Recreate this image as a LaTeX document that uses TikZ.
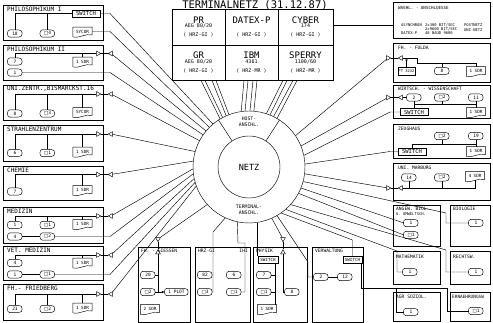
\documentclass[tikz,border=0pt]{standalone}
\usepackage{fontspec}
\usepackage{tikz}
\usetikzlibrary{positioning,calc,shapes.geometric,arrows.meta}
\newfontfamily\plotfont{DejaVu Sans Mono}
\newfontfamily\sqfont{DejaVu Sans}
\newcommand{\fsz}[1]{\fontsize{#1}{#1}\selectfont}
\newcommand{\sq}{{\sqfont\symbol{"25A1}}}
\newcommand{\hostlbl}[3]{{\fsz{9}#1}\\[-0.5pt]{\vphantom{0}#2}\\[4pt]{#3}}
% terminal (display symbol)
\newcommand{\term}[4][]{%
  \node[termnode,#1] (#2) at (#3) {#4};
  \draw[wire] ([xshift=2pt]#2.north west) -- ([xshift=-4pt]#2.north east)
    .. controls ([xshift=-1pt]#2.north east) and ([yshift=2pt]#2.east) .. (#2.east)
    .. controls ([yshift=-2pt]#2.east) and ([xshift=-1pt]#2.south east) .. ([xshift=-4pt]#2.south east)
    -- ([xshift=2pt]#2.south west)
    .. controls ([xshift=-1.2pt]#2.south west) and ([xshift=-1.2pt]#2.north west) .. cycle;}
% printer (document symbol)
\newcommand{\sdr}[3]{%
  \node[docnode] (#1) at (#2) {#3};
  \draw[wire] ([yshift=-1pt]#1.south west) -- (#1.north west) -- (#1.north east)
    -- ([yshift=1pt]#1.south east)
    .. controls ([xshift=3pt,yshift=3pt]#1.south) and ([xshift=-4pt,yshift=-3pt]#1.south) .. ([yshift=-1pt]#1.south west);}

\begin{document}
\begin{tikzpicture}[x=1pt,y=-1pt,
  wire/.style={line width=0.45pt},
  unitbox/.style={wire},
  boxtitle/.style={anchor=west,inner sep=0pt,font=\plotfont\fsz{6}},
  rtitle/.style={anchor=west,inner sep=0pt,font=\plotfont\fsz{4.6}},
  termnode/.style={inner sep=0pt,minimum width=14pt,minimum height=7pt,font=\plotfont\fsz{4.5}},
  docnode/.style={inner sep=0pt,minimum width=19pt,minimum height=8.5pt,font=\plotfont\fsz{4.3}},
  swbox/.style={draw,wire,inner sep=0pt,minimum width=28pt,minimum height=7pt,font=\plotfont\fsz{5.5}},
  plugr/.style={regular polygon,regular polygon sides=3,shape border rotate=-90,draw,wire,inner sep=0pt,minimum size=5.5pt},
  plugl/.style={plugr,shape border rotate=90},
  plugd/.style={plugr,shape border rotate=180},
  plugu/.style={plugr,shape border rotate=0},
  hostcell/.style={draw,wire,minimum width=53pt,minimum height=35.5pt,inner sep=0pt,align=center,font=\plotfont\fsz{5}},
  tinytext/.style={anchor=west,inner sep=0pt,font=\plotfont\fsz{3.8}}
]
\useasboundingbox (0,0) rectangle (493,323);

\node[font=\plotfont\fsz{10.5},anchor=base,inner sep=0pt] (title) at (255,8.2) {TERMINALNETZ (31.12.87)};

% hosts
\node[hostcell] (pr) at (198.5,27) {\hostlbl{PR}{AEG 80/20}{( HRZ-GI )}};
\node[hostcell] (datex) at (251.5,27) {\hostlbl{DATEX-P}{}{( HRZ-GI )}};
\node[hostcell,minimum width=55pt] (cyber) at (305.5,27) {\hostlbl{CYBER}{174}{( HRZ-GI )}};
\node[hostcell] (gr) at (198.5,62.5) {\hostlbl{GR}{AEG 80/20}{( HRZ-GI )}};
\node[hostcell] (ibm) at (251.5,62.5) {\hostlbl{IBM}{4361}{( HRZ-MR )}};
\node[hostcell,minimum width=55pt] (sperry) at (305.5,62.5) {\hostlbl{SPERRY}{1100/60}{( HRZ-MR )}};

% netz
\node[circle,draw,wire,minimum size=112pt,inner sep=0pt] (ring) at (249,167) {};
\node[circle,draw,wire,minimum size=62pt,inner sep=0pt,font=\plotfont\fsz{8.5}] (netz) at (249,167) {NETZ};
\draw[wire] (netz.57) -- (ring.57);
\draw[wire] (netz.123) -- (ring.123);
\node[font=\plotfont\fsz{4.8},align=center,inner sep=0pt] (hostl) at (249,122) {HOST-\\[1pt]ANSCHL.};
\node[font=\plotfont\fsz{4.8},align=center,inner sep=0pt] (terml) at (249,210) {TERMINAL-\\[1pt]ANSCHL.};

\draw[wire] ([xshift=2.5pt]gr.south) -- (ring.121);
\draw[wire] ([xshift=6.5pt]gr.south) -- (ring.118);
\draw[wire] ([xshift=13.5pt]gr.south) -- (ring.114);
\draw[wire] ([xshift=17.5pt]gr.south) -- (ring.111);
\draw[wire] ([xshift=-7.5pt]ibm.south) -- (ring.98);
\draw[wire] ([xshift=-3.5pt]ibm.south) -- (ring.94);
\draw[wire] ([xshift=1.5pt]ibm.south) -- (ring.89);
\draw[wire] ([xshift=5.5pt]ibm.south) -- (ring.85);
\draw[wire] ([xshift=-22.5pt]sperry.south) -- (ring.72);
\draw[wire] ([xshift=-18.5pt]sperry.south) -- (ring.68);
\draw[wire] ([xshift=-12.5pt]sperry.south) -- (ring.64);
\draw[wire] ([xshift=-8.5pt]sperry.south) -- (ring.60);

% Philosophikum I
\draw[unitbox] (3,5) rectangle (103,40);
\node[boxtitle] (phil1) at (7,9.5) {PHILOSOPHIKUM I};
\node[swbox] (phil1sw) at (86,13.5) {SWITCH};
\term{phil1a}{15,33.5}{18}
\term{phil1b}{47.5,33.5}{\sq4}
\sdr{phil1c}{82.5,31.5}{SYCOR}
\draw[wire] (phil1sw.west) -| (phil1a.north);
\draw[wire] (phil1b.north) -- (phil1b.north |- phil1sw.west);
\draw[wire] (phil1sw.east) -- (110,13.5) -- (ring.130);
\draw[wire] (phil1c.east) -- (110,31.5) -- (ring.135);

% Philosophikum II
\draw[unitbox] (3,45) rectangle (103,80);
\node[boxtitle] (phil2) at (7,49) {PHILOSOPHIKUM II};
\node[plugr] (phil2p) at (98,53.5) {};
\node[plugl] (phil2q) at (111,53.5) {};
\term{phil2a}{15,61.5}{7}
\sdr{phil2b}{82.5,61.5}{1 SDR}
\term{phil2c}{15,72.5}{1}
\draw[wire] (phil2a.north) |- (phil2p);
\draw[wire] (phil2b.north) -- (phil2b.north |- phil2p);
\draw[wire] (phil2p) -- (phil2q);
\draw[wire] (phil2q) -- (ring.140);
\draw[wire] (phil2c.east) -- (110,72.5) -- (ring.145);

% Uni Zentrale
\draw[unitbox] (3,85) rectangle (103,120);
\node[boxtitle] (zentr) at (7,89) {UNI.ZENTR.,BISMARCKST.16};
\node[plugr] (zentrp) at (98,94) {};
\node[plugl] (zentrq) at (111,94) {};
\term{zentra}{15,113.5}{8}
\term{zentrb}{47.5,113.5}{\sq3}
\sdr{zentrc}{82.5,112}{SYCOR}
\draw[wire] (zentra.north) |- (zentrp);
\draw[wire] (zentrb.north) -- (zentrb.north |- zentrp);
\draw[wire] (zentrc.north) -- (zentrc.north |- zentrp);
\draw[wire] (zentrp) -- (zentrq);
\draw[wire] (zentrq) -- (ring.152);

% Strahlenzentrum
\draw[unitbox] (3,125) rectangle (103,161);
\node[boxtitle] (strahl) at (7,129.5) {STRAHLENZENTRUM};
\node[plugr] (strahlp) at (98,134) {};
\node[plugl] (strahlq) at (111,134) {};
\term{strahla}{15,153}{6}
\term{strahlb}{47.5,153}{\sq1}
\sdr{strahlc}{82.5,151.5}{1 SDR}
\draw[wire] (strahla.north) |- (strahlp);
\draw[wire] (strahlb.north) -- (strahlb.north |- strahlp);
\draw[wire] (strahlc.north) -- (strahlc.north |- strahlp);
\draw[wire] (strahlp) -- (strahlq);
\draw[wire] (strahlq) -- (ring.164);

% Chemie
\draw[unitbox] (3,166) rectangle (103,200);
\node[boxtitle] (chem) at (7,170) {CHEMIE};
\node[plugr] (chemp) at (98,174.5) {};
\node[plugl] (chemq) at (111,174.5) {};
\term{chema}{15,191.5}{7}
\sdr{chemb}{82.5,190}{1 SDR}
\draw[wire] (chema.north) |- (chemp);
\draw[wire] (chemb.north) -- (chemb.north |- chemp);
\draw[wire] (chemp) -- (chemq);
\draw[wire] (chemq) -- (ring.174);

% Medizin
\draw[unitbox] (3,207) rectangle (103,243);
\node[boxtitle] (med) at (7,211) {MEDIZIN};
\node[plugr] (medp) at (98,216) {};
\node[plugl] (medq) at (111,216) {};
\term{meda}{15,225}{1}
\term{medb}{47.5,225}{\sq1}
\sdr{medc}{82.5,224}{1 SDR}
\term{medd}{15,236.5}{4}
\term{mede}{47.5,236.5}{\sq2}
\draw[wire] (meda.north) |- (medp);
\draw[wire] (medb.north) -- (medb.north |- medp);
\draw[wire] (medc.north) -- (medc.north |- medp);
\draw[wire] (medp) -- (medq);
\draw[wire] (medq) -- (ring.182);
\draw[wire] (medd.east) -- (mede.west);
\draw[wire] (mede.east) -- (110,236.5) -- (ring.187);

% Vet. Medizin
\draw[unitbox] (3,246) rectangle (103,280);
\node[boxtitle] (vet) at (7,250) {VET. MEDIZIN};
\node[plugr] (vetp) at (98,255) {};
\node[plugl] (vetq) at (111,255) {};
\term{veta}{15,263}{4}
\sdr{vetb}{82.5,262.5}{1 SDR}
\term{vetc}{15,274.5}{1}
\term{vetd}{47.5,274.5}{\sq1}
\draw[wire] (veta.north) |- (vetp);
\draw[wire] (vetb.north) -- (vetb.north |- vetp);
\draw[wire] (vetp) -- (vetq);
\draw[wire] (vetq) -- (ring.192);
\draw[wire] (vetc.east) -- (vetd.west);
\draw[wire] (vetd.east) -- (110,274.5) -- (ring.196);

% FH Friedberg
\draw[unitbox] (3,284) rectangle (103,320);
\node[boxtitle] (fried) at (7,288.5) {FH.- FRIEDBERG};
\node[plugr] (friedp) at (98,294) {};
\node[plugl] (friedq) at (111,294) {};
\term{frieda}{15,309}{21}
\term{friedb}{47.5,309}{\sq2}
\sdr{friedc}{82.5,307.5}{1 SDR}
\draw[wire] (frieda.north) |- (friedp);
\draw[wire] (friedb.north) -- (friedb.north |- friedp);
\draw[wire] (friedc.north) -- (friedc.north |- friedp);
\draw[wire] (friedp) -- (friedq);
\draw[wire] (friedq) -- (ring.200);

% FH Giessen
\draw[unitbox] (138,247) rectangle (190,322);
\node[rtitle] (giess) at (141,251) {FH. - GIESSEN};
\node[plugd] (giessp) at (158,239) {};
\node[plugu] (giessq) at (158,252.5) {};
\term{giessa}{148,275}{20}
\term{giessb}{148,292}{\sq2}
\sdr{giessc}{150,309}{2 SDR}
\term[minimum width=23pt]{giessd}{176.5,292}{1 PLOT}
\coordinate (giessk) at (158,292);
\draw[wire] (giessp) -- (giessq);
\draw[wire] (giessp) -- (ring.222);
\draw[wire] (giessq) -- (giessk);
\draw[wire] (giessa.east) -- (giessa.east -| giessk);
\draw[wire,-{Latex[length=3pt,width=2.5pt]}] (giessb.east) -- (giessd.west);

% HRZ-GI / IHI
\draw[unitbox] (195,247) rectangle (250,322);
\node[rtitle] (hrz) at (198,251) {HRZ-GI};
\node[rtitle,anchor=east] (ihi) at (248,251) {IHI};
\term{hrza}{205,275}{82}
\term{hrzb}{234,275}{6}
\term{hrzc}{205,292}{\sq3}
\term{hrzd}{234,292}{\sq1}
\draw[wire] (ring.245) -- (213,232) |- (hrzc.east);
\draw[wire] (ring.258) -- (238,243) -- (245,243) |- (hrzd.east);

% Physik
\draw[unitbox] (253,247) rectangle (307,322);
\node[rtitle] (phys) at (256,251) {PHYSIK};
\node[swbox,minimum width=20pt,font=\plotfont\fsz{4.2}] (physw) at (268,259.5) {SWITCH};
\node[plugd] (physp) at (283,239) {};
\node[plugu] (physq) at (283,252.5) {};
\term{physa}{264,275}{7}
\term{physb}{264,292}{\sq1}
\sdr{physc}{267,309}{1 SDR}
\term{physd}{292,292}{8}
\coordinate (physk) at (275,304.8);
\draw[wire] (ring.278) -- (ring.278 |- physw.north);
\draw[wire] (physw.south -| physk) -- (physk);
\draw[wire] (physa.east) -- (physa.east -| physk);
\draw[wire] (physb.east) -- (physb.east -| physk);
\draw[wire] (physp) -- (physq);
\draw[wire] (physp) -- (ring.294);
\draw[wire] (physq) |- (physd.west);

% Verwaltung
\draw[unitbox] (312,247) rectangle (363,322);
\node[rtitle] (verw) at (315,251) {VERWALTUNG};
\node[swbox,minimum width=19pt,font=\plotfont\fsz{4.2}] (verwsw) at (352.5,259.5) {SWITCH};
\term{verwa}{321,277}{2}
\term{verwb}{345,277}{12}
\coordinate (verwk) at (361,288);
\draw[wire] (ring.305) -- (352.5,240) -- (verwsw.north);
\draw[wire] (ring.300) -- (308,262) |- (verwa.west);
\draw[wire] (verwa.east) -- (verwb.west);

% right column
\draw[unitbox] (393,2) rectangle (490,38);
\node[rtitle,font=\plotfont\fsz{4.2}] (waehl) at (398,7.5) {WAEHL. - ANSCHLUESSE};
\node[tinytext] (waehla) at (401,25) {ASYNCHRON};
\node[tinytext] (waehlb) at (425,25) {2x300 BIT/SEC};
\node[tinytext] (waehlc) at (464,25) {POSTNETZ};
\node[tinytext] (waehld) at (425,29.5) {2x9600 BIT/SEC};
\node[tinytext] (waehle) at (464,30) {UNI-NETZ};
\node[tinytext] (waehlf) at (401,33) {DATEX-P};
\node[tinytext] (waehlg) at (425,33.5) {48 BAUD 9600};
\coordinate (waehlk) at (393,25);
\draw[wire] (cyber.east |- waehlk) -- (waehlk);

% FH Fulda
\draw[unitbox] (393,43) rectangle (490,82);
\node[rtitle] (fulda) at (398,48) {FH. - FULDA};
\node[plugr] (fuldap) at (388,58) {};
\node[plugl] (fuldaq) at (401,58) {};
\node[swbox,minimum width=17pt,minimum height=8pt,font=\plotfont\fsz{3.8}] (fuldapt) at (406.5,71) {PT 3232};
\term{fuldaa}{442,71}{8}
\sdr{fuldab}{476,71}{1 SDR}
\coordinate (fuldak) at (417,63);
\draw[wire] (fuldap) -- (fuldaq);
\draw[wire] (fuldap) -- (ring.34);
\draw[wire] (fuldaq) -- (fuldaq -| fuldak) -- (fuldak) -- (fuldak -| fuldab.north) -- (fuldab.north);
\draw[wire] (fuldaa.north) -- (fuldaa.north |- fuldak);
\draw[wire,-{Triangle[open,length=2.5pt,width=2.5pt]}] (fuldapt.north) -- (fuldapt.north |- fuldaq);

% Wirtschaftswissenschaft
\draw[unitbox] (393,85) rectangle (490,118);
\node[rtitle] (wiwi) at (398,89) {WIRTSCH. - WISSENSCHAFT};
\node[plugr] (wiwip) at (388,97.5) {};
\node[plugl] (wiwiq) at (401,97.5) {};
\term{wiwia}{414,97.5}{2}
\term{wiwib}{442,97.5}{\sq2}
\term{wiwic}{476,97.5}{11}
\node[swbox] (wiwisw) at (414,112) {SWITCH};
\sdr{wiwid}{476,112}{1 SDR}
\coordinate (wiwik) at (414,104.5);
\draw[wire] (wiwip) -- (wiwiq);
\draw[wire] (wiwip) -- (ring.22);
\draw[wire] (wiwiq) -- (wiwia.west);
\draw[wire] (wiwisw.north) -- (wiwik) -- (wiwik -| wiwid.north) -- (wiwid.north);
\draw[wire] (wiwia.south) -- (wiwik);
\draw[wire] (wiwib.south) -- (wiwib.south |- wiwik);
\draw[wire] (wiwic.south) -- (wiwic.south |- wiwik);
\draw[wire] (wiwisw.west) -- (390,112) -- (ring.12);

% Zeughaus
\draw[unitbox] (393,124) rectangle (490,158);
\node[rtitle] (zeug) at (398,129) {ZEUGHAUS};
\term{zeuga}{442,136}{\sq2}
\term{zeugb}{476,136}{19}
\node[swbox] (zeugsw) at (412,151.5) {SWITCH};
\sdr{zeugc}{476,151}{1 SDR}
\coordinate (zeugk) at (412,144);
\draw[wire] (zeugsw.north) -- (zeugk) -- (zeugk -| zeugc.north) -- (zeugc.north);
\draw[wire] (zeuga.south) -- (zeuga.south |- zeugk);
\draw[wire] (zeugb.south) -- (zeugb.south |- zeugk);
\draw[wire] (zeugsw.west) -- (390,151.5) -- (ring.3);

% Uni Marburg
\draw[unitbox] (393,163) rectangle (490,200);
\node[rtitle] (marb) at (398,168) {UNI. MARBURG};
\node[plugr] (marbp) at (388,188) {};
\node[plugl] (marbq) at (401,188) {};
\term{marba}{409,177.5}{14}
\term{marbb}{442,177.5}{\sq2}
\sdr{marbc}{475,176}{4 SDR}
\draw[wire] (marbp) -- (marbq);
\draw[wire] (marbp) -- (ring.353);
\draw[wire] (marbq) -- (marbq -| marbc.south) -- (marbc.south);
\draw[wire] (marba.south) -- (marba.south |- marbq);
\draw[wire] (marbb.south) -- (marbb.south |- marbq);

% Angew. Biologie
\draw[unitbox] (393,205) rectangle (440,246);
\node[rtitle] (angew) at (396,209) {ANGEW. BIOL.};
\node[rtitle,font=\plotfont\fsz{3.8}] (angewu) at (396,214) {U. UMWELTSCH.};
\term{angewa}{411,223}{1}
\term{angewb}{411,235}{\sq1}
\draw[wire] (ring.338) -- (angewa.west);
\draw[wire] (ring.332) -- (angewb.west);

% Biologie
\draw[unitbox] (450,205) rectangle (490,246);
\node[rtitle] (bio) at (453,209) {BIOLOGIE};
\term{bioa}{476,223}{1}
\coordinate (biok) at (446,213);
\draw[wire] (ring.345) -- (biok) |- (bioa.west);

% Mathematik
\draw[unitbox] (393,251) rectangle (440,284);
\node[rtitle] (mathe) at (396,257) {MATHEMATIK};
\term{mathea}{410,272}{1}
\coordinate (mathek) at (397,251);
\draw[wire] (ring.311) -- (mathek) |- (mathea.west);

% Rechtswissenschaft
\draw[unitbox] (450,251) rectangle (490,284);
\node[rtitle] (recht) at (453,257) {RECHTSW.};
\term{rechta}{476,272}{1}
\coordinate (rechtk) at (446,250);
\draw[wire] (ring.318) -- (rechtk) |- (rechta.west);

% Agr. Soziologie, Ernaehrungswiss.
\draw[unitbox] (393,292) rectangle (440,321);
\node[rtitle] (agr) at (396,297) {AGR SOZIOL.};
\term{agra}{411,312}{1}
\draw[unitbox] (450,292) rectangle (490,321);
\node[rtitle,font=\plotfont\fsz{4.4}] (ern) at (452,297) {ERNAEHRUNGSW};
\term{erna}{476,311}{\sq1}
\draw[wire] (verwsw.south -| verwk) -- (verwk) -- (447,288) |- (erna.west);
\draw[wire] (396,288) |- (agra.west);
\end{tikzpicture}
\end{document}
